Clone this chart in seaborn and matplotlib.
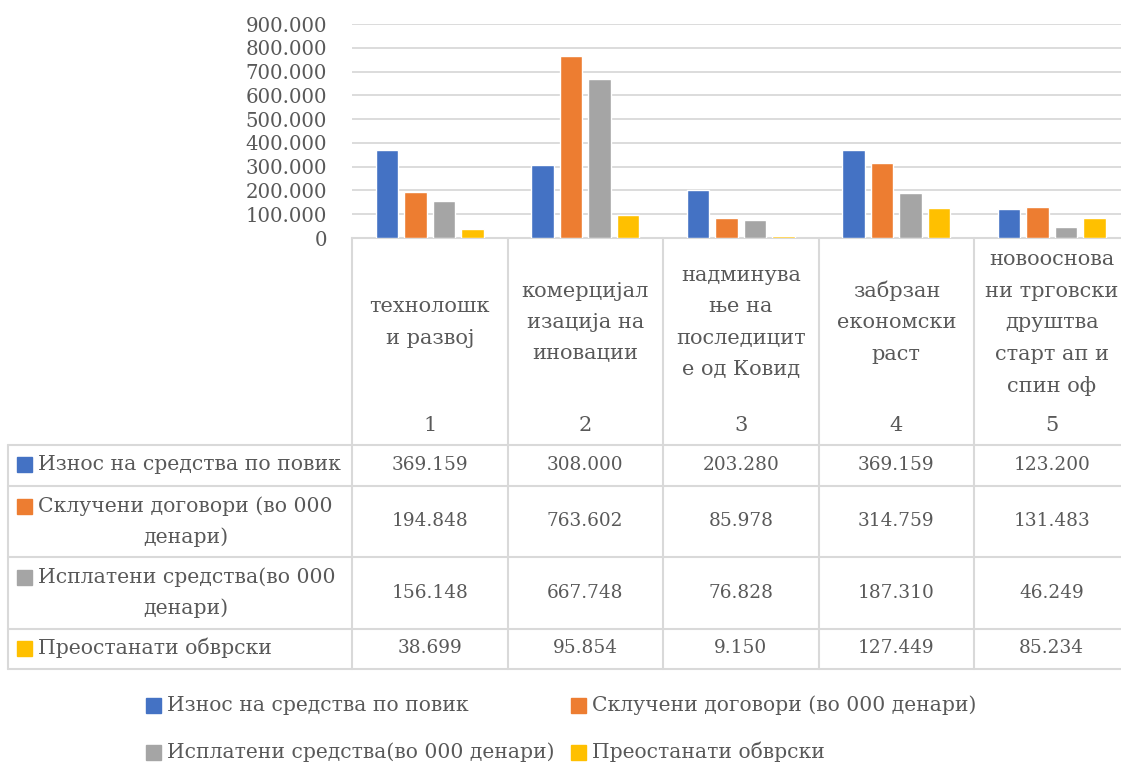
import pandas as pd
import matplotlib.pyplot as plt
import matplotlib.patches as mpatches
from matplotlib.lines import Line2D
from matplotlib.ticker import FuncFormatter
from matplotlib.transforms import blended_transform_factory
import seaborn as sns

# Data (values in 000 denars, "." is the thousands separator)
categories = ['1', '2', '3', '4', '5']
category_text = [
    'технолошк\nи развој',
    'комерцијал\nизација на\nиновации',
    'надминува\nње на\nпоследицит\nе од Ковид',
    'забрзан\nекономски\nраст',
    'новооснова\nни трговски\nдруштва\nстарт ап и\nспин оф',
]
series_names = [
    'Износ на средства по повик',
    'Склучени договори (во 000 денари)',
    'Исплатени средства(во 000 денари)',
    'Преостанати обврски',
]
series_table_text = [
    'Износ на средства по повик',
    'Склучени договори (во 000\nденари)',
    'Исплатени средства(во 000\nденари)',
    'Преостанати обврски',
]
iznos = [369159, 308000, 203280, 369159, 123200]
skluceni = [194848, 763602, 85978, 314759, 131483]
isplateni = [156148, 667748, 76828, 187310, 46249]
preostanati = [38699, 95854, 9150, 127449, 85234]
colors = ['#4472C4', '#ED7D31', '#A5A5A5', '#FFC000']

values = [iznos, skluceni, isplateni, preostanati]
df = pd.DataFrame({
    'category': categories * 4,
    'series': [s for s in series_names for _ in categories],
    'value': iznos + skluceni + isplateni + preostanati,
})


def dots(v):
    return f'{int(v):,}'.replace(',', '.')


sns.set_style('white')
plt.rcParams['font.family'] = ['DejaVu Serif']
TXT = '#595959'
GRID = '#D9D9D9'
FS = 15        # words in the table header
FS_ROW = 14.7  # row labels
FS_LEG = 14.6  # legend
FS_NUM = 13.3  # numbers in the table
FS_TICK = 14.2

W, H = 1121, 763
fig = plt.figure(figsize=(W / 100, H / 100), dpi=100)


def fx(px):
    return px / W


def fy(py):
    return 1 - py / H


ax = fig.add_axes([fx(352), fy(238), fx(1129.5) - fx(352), fy(24) - fy(238)])
sns.barplot(data=df, x='category', y='value', hue='series', order=categories,
            hue_order=series_names, palette=colors, saturation=1,
            width=0.733, gap=0.22, errorbar=None, legend=False, ax=ax, zorder=3)
ax.set_xlim(-0.5, 4.5)
ax.set_ylim(0, 900000)
ax.set_yticks(range(0, 900001, 100000))
ax.yaxis.set_major_formatter(FuncFormatter(lambda v, p: dots(v)))
ax.set_xticks([])
ax.set_xlabel('')
ax.set_ylabel('')
ax.tick_params(axis='y', length=0, pad=18, labelsize=FS_TICK, labelcolor=TXT)
ax.yaxis.grid(True, color=GRID, lw=1.3)
ax.set_axisbelow(True)
for s in ['top', 'left', 'right']:
    ax.spines[s].set_visible(False)
ax.spines['bottom'].set_color(GRID)
ax.spines['bottom'].set_linewidth(1.5)
ax.spines['bottom'].set_zorder(1)

# data table under the chart
tr = blended_transform_factory(ax.transData, fig.transFigure)
for k in range(len(categories)):
    fig.add_artist(Line2D([k - 0.5, k - 0.5], [fy(238), fy(669)], transform=tr,
                          color=GRID, lw=1.5))
fig.add_artist(Line2D([fx(8), fx(8)], [fy(445), fy(669)], transform=fig.transFigure,
                      color=GRID, lw=1.5))
for py in [445, 486, 557, 629, 669]:
    fig.add_artist(Line2D([fx(8), 1], [fy(py), fy(py)], transform=fig.transFigure,
                          color=GRID, lw=1.5))

for k, (cat, txt) in enumerate(zip(categories, category_text)):
    lines = txt.split('\n')
    n = len(lines)
    for i, line in enumerate(lines):
        py = 322.5 + (i - (n - 1) / 2) * 31.5
        fig.text(k, fy(py), line, transform=tr, ha='center', va='center',
                 fontsize=FS, color=TXT)
    fig.text(k, fy(425), cat, transform=tr, ha='center', va='center',
             fontsize=FS, color=TXT)

row_first = [465, 506, 577, 648]
row_mid = [465, 521, 593, 648]
for r, (label, vals) in enumerate(zip(series_table_text, values)):
    lines = label.split('\n')
    fig.add_artist(mpatches.Rectangle((fx(17), fy(row_first[r] + 7.5)), fx(15), 15 / H,
                                      transform=fig.transFigure, color=colors[r]))
    fig.text(fx(38), fy(row_first[r]), lines[0], ha='left', va='center',
             fontsize=FS_ROW, color=TXT)
    if len(lines) > 1:
        fig.text(fx(186), fy(row_first[r] + 31), lines[1], ha='center', va='center',
                 fontsize=FS_ROW, color=TXT)
    for k, v in enumerate(vals):
        fig.text(k, fy(row_mid[r]), dots(v), transform=tr, ha='center', va='center',
                 fontsize=FS_NUM, color=TXT)

# legend
legend_pos = [(146, 705.5), (571, 705.5), (146, 752), (571, 752)]
for (px, py), name, c in zip(legend_pos, series_names, colors):
    fig.add_artist(mpatches.Rectangle((fx(px), fy(py + 7.5)), fx(15), 15 / H,
                                      transform=fig.transFigure, color=c))
    fig.text(fx(px + 21), fy(py), name, ha='left', va='center',
             fontsize=FS_LEG, color=TXT)

fig.savefig('out.png', dpi=100)
